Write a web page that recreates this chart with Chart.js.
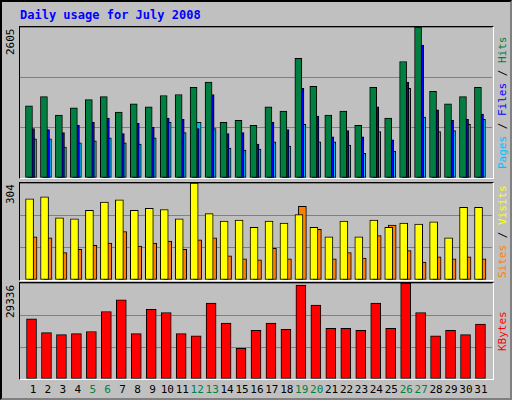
<!DOCTYPE html>
<html><head><meta charset="utf-8">
<script src="https://cdn.jsdelivr.net/npm/chart.js@4"></script>
<style>
body{margin:0;background:#fff}
#wrap{position:absolute;left:0;top:0;width:508px;height:396px;background:#C0C0C0;border:2px solid #000;border-right-color:#808080;border-bottom-color:#808080}
.t{position:absolute;font-family:"DejaVu Sans Mono",monospace;font-size:11px;white-space:nowrap}
.v{transform-origin:0 0;transform:rotate(-90deg)}
.pane{position:absolute;border:1px solid #000;border-right-color:#fff;border-bottom-color:#fff;box-sizing:border-box}
canvas{position:absolute}
</style></head><body>
<div id="wrap"></div>
<script>
const days=[1,2,3,4,5,6,7,8,9,10,11,12,13,14,15,16,17,18,19,20,21,22,23,24,25,26,27,28,29,30,31];
const weekend=[5,6,12,13,19,20,26,27];
const hits=[1245,1405,1085,1210,1352,1405,1139,1281,1228,1423,1441,1566,1654,961,996,907,1228,1156,2064,1583,1085,1156,907,1566,1032,2010,2605,1494,1281,1405,1566];
const files=[854,836,783,907,961,1032,765,943,872,1032,1014,854,1441,765,783,587,961,836,1548,1067,712,818,712,1228,658,1654,2295,1174,996,1014,1103];
const pages=[676,676,534,605,640,694,605,587,694,961,783,961,854,516,480,498,623,551,925,623,623,569,427,801,463,1548,1050,801,818,925,1014];
const visits=[254,261,195,192,218,244,251,218,225,221,192,304,208,185,188,165,185,178,205,165,135,185,135,188,165,178,175,182,132,228,228];
const sites=[135,132,86,96,109,116,152,106,116,122,96,126,132,76,66,63,99,66,231,159,66,86,69,139,172,92,56,73,66,73,66];
const kbytes=[18380,14190,13545,13870,14510,20640,24190,13870,21285,20320,13870,13220,23220,17090,9350,14835,17090,15160,28700,22575,15480,15480,14835,23220,15480,29336,20320,13220,14835,13545,16770];
const maxHits=2605,maxVisits=304,maxK=29336;

const wrap=document.getElementById('wrap');
function txt(s,x,y,c,extra){const d=document.createElement('div');d.className='t'+(extra?' '+extra:'');d.textContent=s;d.style.left=x+'px';d.style.top=y+'px';d.style.color=c;wrap.appendChild(d);return d;}
function el(tag,cls,x,y,w,h){const d=document.createElement(tag);if(cls)d.className=cls;d.style.left=x+'px';d.style.top=y+'px';d.style.width=w+'px';d.style.height=h+'px';wrap.appendChild(d);return d;}

const t=txt('Daily usage for July 2008',18,6,'#0000FF');t.style.fontWeight='bold';t.style.fontSize='12px';

function panel(top,h,max,sets,label,parts){
  el('div','pane',17,top-1,475,h+2);
  const c=el('canvas',null,18,top,472,h);
  c.width=472;c.height=h;
  new Chart(c,{type:'bar',data:{datasets:sets.map(s=>({data:s.vals.map((v,i)=>({x:days[i]+s.off,y:v})),backgroundColor:s.col,borderColor:'#000',borderWidth:1,borderSkipped:false,barThickness:s.w,grouped:false}))},
    options:{responsive:false,animation:false,events:[],layout:{padding:0},plugins:{legend:{display:false},tooltip:{enabled:false}},
      scales:{x:{type:'linear',display:false,min:0.13,max:31.67,offset:false},
        y:{min:0,max:max,afterBuildTicks:a=>{a.ticks=[{value:0},{value:max/3},{value:2*max/3},{value:max}]},
          ticks:{display:false},grid:{color:'#808080',drawTicks:false,lineWidth:1},border:{display:false}}}}});
  const l=txt(label,2,0,'#000','v');
  l.style.top=(top+label.length*7)+'px';
  const r=document.createElement('div');r.className='t v';r.style.left='494px';
  parts.forEach(p=>{const sp=document.createElement('span');sp.textContent=p[0];sp.style.color=p[1];r.appendChild(sp);});
  wrap.appendChild(r);
  r.style.top=(top+h)+'px';
  const w=r.getBoundingClientRect().height; r.style.top=(top+h/2+w/2)+'px';
}
panel(25,151,maxHits,[{vals:hits,col:'#008040',off:-0.27,w:7},{vals:files,col:'#0000FF',off:-0.13,w:7},{vals:pages,col:'#00C0FF',off:0,w:7}],String(maxHits),[['Pages','#00C0FF'],[' / ','#000'],['Files','#0000FF'],[' / ','#000'],['Hits','#008040']]);
panel(181,97,maxVisits,[{vals:visits,col:'#FFFF00',off:-0.23,w:8},{vals:sites,col:'#FF8000',off:0,w:8}],String(maxVisits),[['Sites','#FF8000'],[' / ','#000'],['Visits','#FFFF00']]);
panel(281,96,maxK,[{vals:kbytes,col:'#FF0000',off:-0.1,w:10}],String(maxK),[['KBytes','#FF0000']]);
days.forEach(d=>{const e=txt(String(d),0,381,weekend.includes(d)?'#008040':'#000');const w=e.getBoundingClientRect().width;e.style.left=(31-w/2+(d-1)*14.93)+'px';});
</script></body></html>
